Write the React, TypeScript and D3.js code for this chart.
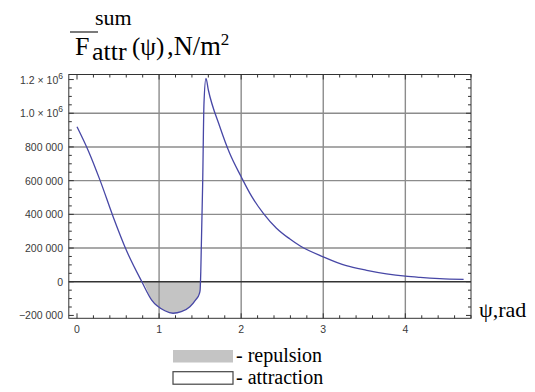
import React, { useEffect, useRef } from "react";
import * as d3 from "d3";

// curve: psi in rad, force in N/m^2
const psi = [0, 0.14, 0.28, 0.44, 0.6, 0.79, 0.91, 1.07, 1.17, 1.27, 1.375, 1.45, 1.49, 1.5, 1.508, 1.531, 1.547, 1.571, 1.6, 1.74, 1.86, 2.0, 2.13, 2.27, 2.43, 2.59, 2.72, 3.0, 3.28, 3.53, 3.77, 4.0, 4.18, 4.42, 4.71];
const force = [920000, 775000, 603000, 386000, 188000, 0, -109000, -172000, -187000, -178000, -148000, -105000, -72000, -50000, 60000, 585000, 1060000, 1207000, 1138000, 920000, 762000, 623000, 505000, 406000, 318000, 255000, 212000, 148000, 95000, 68000, 47000, 33000, 26000, 19000, 14000];

const xTicks = [0, 1, 2, 3, 4];
const yTicks = [-200000, 0, 200000, 400000, 600000, 800000, 1000000, 1200000];
const yTickLabels = ["\u2212200 000", "0", "200 000", "400 000", "600 000", "800 000", "1.0 \u00d7 10", "1.2 \u00d7 10"];
const xGrid = [1, 2, 3, 4];
const yGrid = [200000, 400000, 600000, 800000, 1000000];
const legendLabels = ["- repulsion", "- attraction"];

const W = 535;
const H = 392;

const App = () => {
  const svgRef = useRef<SVGSVGElement>(null);

  useEffect(() => {
    const svg = d3.select(svgRef.current);
    svg.selectAll("*").remove();

    const x = d3.scaleLinear().domain([-0.1, 4.8]).range([68.8, 471]);
    const y = d3.scaleLinear().domain([-217000, 1230000]).range([318.3, 74.5]);
    const pts = psi.map((p, i) => [p, force[i]] as [number, number]);
    const [x0, x1] = x.range();
    const [y0, y1] = y.range();

    svg.append("rect").attr("width", W).attr("height", H).attr("fill", "#fff");

    // repulsion area (negative part)
    const area = d3.area<[number, number]>()
      .x(d => x(d[0]))
      .y0(y(0))
      .y1(d => y(Math.min(d[1], 0)))
      .curve(d3.curveMonotoneX);
    svg.append("path").datum(pts).attr("d", area).attr("fill", "#c4c4c4");

    // grid
    svg.selectAll(".gx").data(xGrid).enter().append("line")
      .attr("x1", d => x(d)).attr("x2", d => x(d))
      .attr("y1", y1).attr("y2", y0)
      .attr("stroke", "#8c8c8c").attr("stroke-width", 1.4);
    svg.selectAll(".gy").data(yGrid).enter().append("line")
      .attr("x1", x0).attr("x2", x1)
      .attr("y1", d => y(d)).attr("y2", d => y(d))
      .attr("stroke", "#8c8c8c").attr("stroke-width", 1.4);
    svg.append("line")
      .attr("x1", x0).attr("x2", x1).attr("y1", y(0)).attr("y2", y(0))
      .attr("stroke", "#333").attr("stroke-width", 1.6);

    // frame + ticks
    svg.append("rect")
      .attr("x", x0).attr("y", y1).attr("width", x1 - x0).attr("height", y0 - y1)
      .attr("fill", "none").attr("stroke", "#333").attr("stroke-width", 1);

    const xMinor = d3.range(0, 4.81, 0.2);
    xMinor.forEach(v => {
      const major = Math.abs(v - Math.round(v)) < 1e-6;
      const len = major ? 5 : 3;
      const px = x(v);
      svg.append("line").attr("x1", px).attr("x2", px).attr("y1", y0).attr("y2", y0 - len).attr("stroke", "#333");
      svg.append("line").attr("x1", px).attr("x2", px).attr("y1", y1).attr("y2", y1 + len).attr("stroke", "#333");
    });
    const yMinor = d3.range(-200000, 1200001, 50000);
    yMinor.forEach(v => {
      const major = v % 200000 === 0;
      const len = major ? 5 : 3;
      const py = y(v);
      svg.append("line").attr("x1", x0).attr("x2", x0 + len).attr("y1", py).attr("y2", py).attr("stroke", "#333");
      svg.append("line").attr("x1", x1).attr("x2", x1 - len).attr("y1", py).attr("y2", py).attr("stroke", "#333");
    });

    // curve
    const line = d3.line<[number, number]>()
      .x(d => x(d[0]))
      .y(d => y(d[1]))
      .curve(d3.curveMonotoneX);
    svg.append("path").datum(pts).attr("d", line)
      .attr("fill", "none").attr("stroke", "#4747a6").attr("stroke-width", 1.3);

    // tick labels
    const tickFont = "Liberation Sans, Arial, sans-serif";
    svg.selectAll(".xl").data(xTicks).enter().append("text")
      .attr("x", d => x(d)).attr("y", 333)
      .attr("text-anchor", "middle")
      .attr("font-family", tickFont).attr("font-size", 10.5).attr("fill", "#3a3a3a")
      .text(d => String(d));

    yTicks.forEach((v, i) => {
      const t = svg.append("text")
        .attr("x", 63).attr("y", y(v) + 4)
        .attr("text-anchor", "end")
        .attr("font-family", tickFont).attr("font-size", 10.5).attr("fill", "#3a3a3a")
        .text(yTickLabels[i]);
      if (v >= 1000000) {
        t.append("tspan").attr("dy", -5).attr("font-size", 8.5).text("6");
      }
    });

    // title
    const serif = "Liberation Serif, Times New Roman, serif";
    svg.append("line").attr("x1", 70).attr("x2", 98).attr("y1", 32).attr("y2", 32)
      .attr("stroke", "#222").attr("stroke-width", 1.2);
    svg.append("text").attr("x", 95).attr("y", 25).attr("font-family", serif).attr("font-size", 22).text("sum");
    svg.append("text").attr("x", 75).attr("y", 55).attr("font-family", serif).attr("font-size", 26).text("F");
    svg.append("text").attr("x", 92).attr("y", 60).attr("font-family", serif).attr("font-size", 26).text("attr");
    svg.append("text").attr("x", 132).attr("y", 55).attr("font-family", serif).attr("font-size", 25).text("(\u03c8)");
    const unit = svg.append("text").attr("x", 167).attr("y", 55).attr("font-family", serif).attr("font-size", 26.5);
    unit.append("tspan").text(",N/m");
    unit.append("tspan").attr("dy", -10).attr("font-size", 17).text("2");

    // axis name
    svg.append("text").attr("x", 479).attr("y", 317).attr("font-family", serif).attr("font-size", 22)
      .text("\u03c8,rad");

    // legend
    const fills = ["#c4c4c4", "#fff"];
    const strokes = ["none", "#444"];
    legendLabels.forEach((lab, i) => {
      const ly = 350 + i * 21.7;
      svg.append("rect").attr("x", 173).attr("y", ly).attr("width", 60).attr("height", 12.5)
        .attr("fill", fills[i]).attr("stroke", strokes[i]).attr("stroke-width", 1.2);
      svg.append("text").attr("x", 236).attr("y", ly + 12).attr("font-family", serif).attr("font-size", 20)
        .text(lab);
    });
  }, []);

  return (
    <svg ref={svgRef} width={W} height={H} style={{ position: "absolute", left: 0, top: 0 }} />
  );
};

export default App;
